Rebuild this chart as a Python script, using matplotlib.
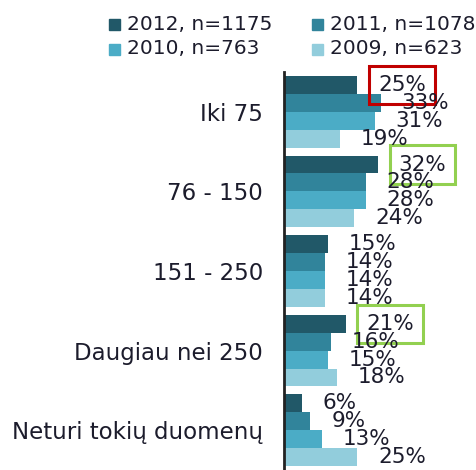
import matplotlib
matplotlib.use('Agg')
import matplotlib.pyplot as plt
from matplotlib.patches import Rectangle

categories = ['Iki 75', '76 - 150', '151 - 250', 'Daugiau nei 250', 'Neturi tokių duomenų']
series = ['2012, n=1175', '2011, n=1078', '2010, n=763', '2009, n=623']
values = {
    '2012, n=1175': [25, 32, 15, 21, 6],
    '2011, n=1078': [33, 28, 14, 16, 9],
    '2010, n=763': [31, 28, 14, 15, 13],
    '2009, n=623': [19, 24, 14, 18, 25],
}
colors = ['#215868', '#31849B', '#4BACC6', '#92CDDC']

# labels that get a frame: (series index, category index) -> edge colour
highlight = {(0, 0): '#C00000', (0, 1): '#92D050', (0, 3): '#92D050'}

txt_color = '#1c1c2c'
fs_leg = 14.5
fs_val = 15.5
fs_cat = 16.5

fig = plt.figure(figsize=(4.77, 4.70), dpi=100)
ax = fig.add_axes([284 / 477, 0, 1 - 284 / 477, (470 - 72) / 470])

bar_h = 0.225
offsets = [-1.5 * bar_h, -0.5 * bar_h, 0.5 * bar_h, 1.5 * bar_h]

for s, name in enumerate(series):
    ys = [i + offsets[s] for i in range(len(categories))]
    ax.barh(ys, values[name], height=bar_h, color=colors[s], edgecolor='none')
    for c, (y, v) in enumerate(zip(ys, values[name])):
        kw = {}
        if (s, c) in highlight:
            kw['bbox'] = dict(boxstyle='square,pad=0.42', fc='none',
                              ec=highlight[(s, c)], lw=2.2)
        ax.annotate(f'{v}%', (v, y), xytext=(15, 0), textcoords='offset points',
                    ha='left', va='center', fontsize=fs_val, color=txt_color,
                    annotation_clip=False, **kw)

ax.set_xlim(0, 65.9)
ax.set_ylim(len(categories) - 0.5, -0.5)
ax.set_yticks(range(len(categories)))
ax.set_yticklabels(categories, fontsize=fs_cat, color=txt_color)
ax.tick_params(axis='y', length=0, pad=15)
ax.set_xticks([])
for side in ['top', 'right', 'bottom']:
    ax.spines[side].set_visible(False)
ax.spines['left'].set_linewidth(2)
ax.spines['left'].set_color('#222222')

# legend in two columns above the plot
leg_x = [109, 312]
leg_y = [24, 49]
for s, name in enumerate(series):
    x0 = leg_x[s % 2]
    y0 = leg_y[s // 2]
    fig.patches.append(Rectangle((x0 / 477, 1 - (y0 + 5.5) / 470), 11 / 477, 11 / 470,
                                 transform=fig.transFigure, color=colors[s]))
    fig.text((x0 + 18) / 477, 1 - y0 / 470, name, fontsize=fs_leg, color=txt_color,
             ha='left', va='center')

fig.savefig('out.png', dpi=100)
